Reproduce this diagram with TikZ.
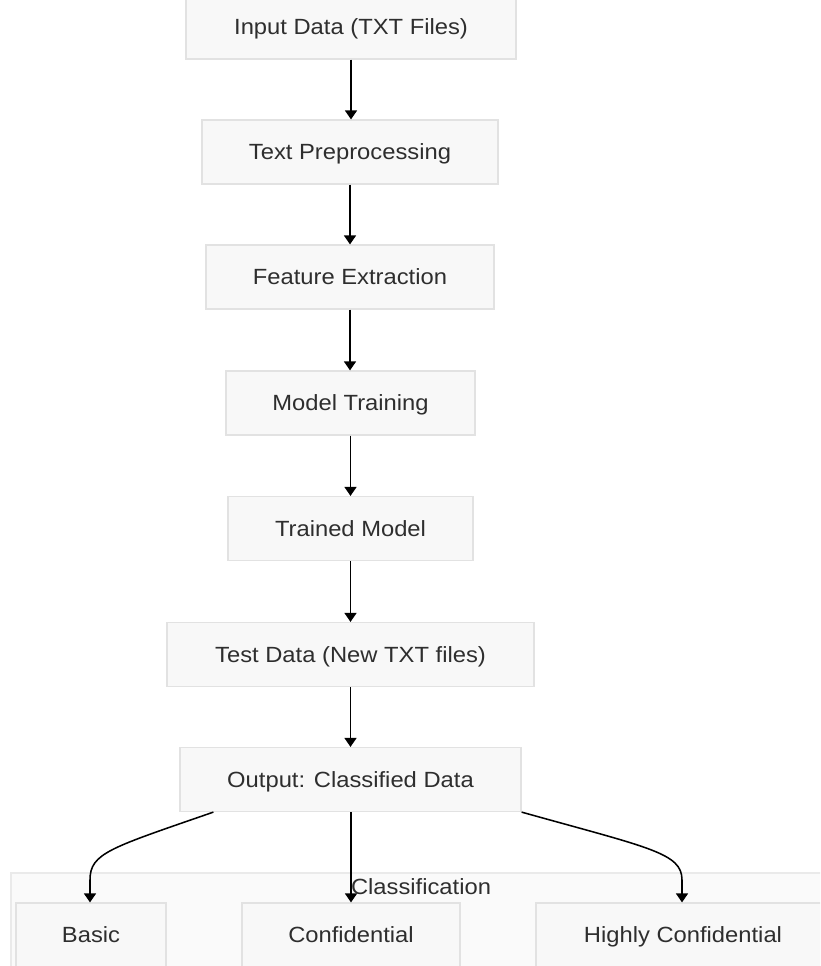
\documentclass[tikz,border=0pt]{standalone}
\usepackage{fontspec}
\setmainfont[FakeStretch=1.08]{Liberation Sans}
\usetikzlibrary{arrows.meta,calc}
\definecolor{boxfill}{HTML}{F8F8F8}
\definecolor{boxline}{HTML}{E2E2E2}
\definecolor{clfill}{HTML}{FAFAFA}
\definecolor{clline}{HTML}{EAEAEA}
\definecolor{txt}{HTML}{2E2E2E}
\tikzset{
  box/.style={draw=boxline, fill=boxfill, line width=0.9pt, minimum height=48pt, inner sep=0pt,
    text height=11.8pt, text depth=0pt,
    text=txt, font=\fontsize{16.5pt}{19pt}\selectfont},
  flow/.style={draw=black, line width=1.15pt, -{Triangle[width=9pt,length=6.75pt]}},
  cltext/.style={text=txt, inner sep=0pt, text height=11.8pt, text depth=0pt,
    font=\fontsize{16.5pt}{19pt}\selectfont}
}
\begin{document}
\begin{tikzpicture}[x=0.75pt,y=-0.75pt]
\useasboundingbox (0,0) rectangle (820,966);
\clip (0,0) rectangle (820,966);
\fill[white] (0,0) rectangle (820,966);
% cluster
\draw[draw=clline, fill=clfill, line width=0.9pt] (11,873) rectangle (840,1010);
\node[cltext] (cl) at (421,887) {Classification};
% main column
\node[box, minimum width=247.5pt] (inp) at (351,27) {Input Data (TXT Files)};
\node[box, minimum width=222pt] (tp) at (350,152) {Text Preprocessing};
\node[box, minimum width=216pt] (fe) at (350,277) {Feature Extraction};
\node[box, minimum width=186.75pt] (mt) at (350.5,403) {Model Training};
\node[box, minimum width=183.75pt] (tm) at (350.5,528.5) {Trained Model};
\node[box, minimum width=275.25pt] (td) at (350.5,654.5) {Test Data (New TXT files)};
\node[box, minimum width=255.75pt] (out) at (350.5,779.5) {Output: Classified Data};
% classes
\node[box, minimum width=112.5pt] (basic) at (91,935) {Basic};
\node[box, minimum width=163.5pt] (conf) at (351,935) {Confidential};
\node[box, minimum width=220.5pt] (hc) at (683,935) {Highly Confidential};
% arrows
\draw[flow] (inp.south) -- (inp.south |- tp.north);
\draw[flow] (tp.south) -- (tp.south |- fe.north);
\draw[flow] (fe.south) -- (fe.south |- mt.north);
\draw[flow] (mt.south) -- (mt.south |- tm.north);
\draw[flow] (tm.south) -- (tm.south |- td.north);
\draw[flow] (td.south) -- (td.south |- out.north);
\coordinate (ol) at ($(out.south west)+(34,0)$);
\coordinate (or) at (out.south east);
\draw[flow] (ol) .. controls (110,848) and (90,853) .. (90,880) -- (basic.north -| 90,0);
\draw[flow] (out.south -| conf.north) -- (conf.north);
\draw[flow] (or) .. controls (650,848) and (682,853) .. (682,880) -- (hc.north -| 682,0);
\end{tikzpicture}
\end{document}
